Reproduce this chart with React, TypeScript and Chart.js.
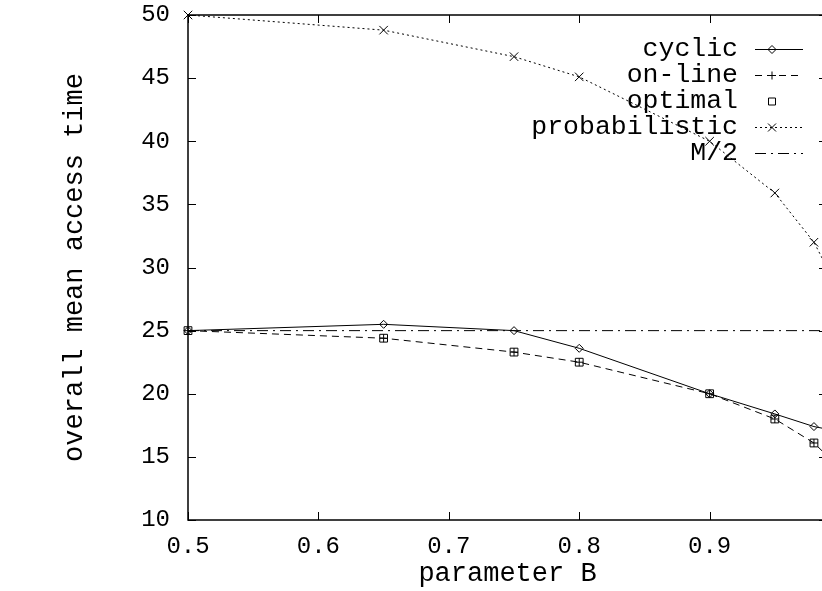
import React, { useEffect, useRef } from "react";
import { Chart, registerables } from "chart.js";

Chart.register(...registerables);

const xValues = [0.5, 0.65, 0.75, 0.8, 0.9, 0.95, 0.98, 0.99];
const cyclicValues = [25, 25.5, 25, 23.6, 20, 18.4, 17.4, 17.2];
const onlineValues = [25, 24.4, 23.3, 22.5, 20, 18, 16.1, 15.1];
const optimalValues = [25, 24.4, 23.3, 22.5, 20, 18, 16.1, 15.1];
const probabilisticValues = [50, 48.8, 46.7, 45.1, 40, 35.9, 32, 30];
const halfXValues = [0.5, 0.99];
const halfValues = [25, 25];
const xTickValues = [0.5, 0.6, 0.7, 0.8, 0.9];
const yTickValues = [10, 15, 20, 25, 30, 35, 40, 45, 50];

const FONT = "'Liberation Mono', 'DejaVu Sans Mono', monospace";

function pts(xs: number[], ys: number[]) {
  return xs.map((x, i) => ({ x, y: ys[i] }));
}

function drawMarker(ctx: CanvasRenderingContext2D, style: string, x: number, y: number) {
  ctx.beginPath();
  if (style === "rectRot") {
    ctx.moveTo(x - 4, y);
    ctx.lineTo(x, y - 4);
    ctx.lineTo(x + 4, y);
    ctx.lineTo(x, y + 4);
    ctx.closePath();
  } else if (style === "cross") {
    ctx.moveTo(x - 4, y);
    ctx.lineTo(x + 4, y);
    ctx.moveTo(x, y - 4);
    ctx.lineTo(x, y + 4);
  } else if (style === "rect") {
    ctx.rect(x - 3.5, y - 3.5, 7, 7);
  } else if (style === "crossRot") {
    ctx.moveTo(x - 4, y - 4);
    ctx.lineTo(x + 4, y + 4);
    ctx.moveTo(x + 4, y - 4);
    ctx.lineTo(x - 4, y + 4);
  }
  ctx.stroke();
}

const framePlugin = {
  id: "gnuplotFrame",
  afterDraw(chart: any) {
    const ctx: CanvasRenderingContext2D = chart.ctx;
    const { left, right, top, bottom } = chart.chartArea;
    const xs = chart.scales.x;
    const ys = chart.scales.y;
    ctx.save();
    ctx.strokeStyle = "#000";
    ctx.lineWidth = 1.5;
    ctx.setLineDash([]);
    ctx.strokeRect(left, top, right - left, bottom - top);
    ctx.lineWidth = 1;
    const tl = 8;
    ctx.beginPath();
    xTickValues.forEach((v) => {
      const px = Math.round(xs.getPixelForValue(v)) + 0.5;
      ctx.moveTo(px, bottom);
      ctx.lineTo(px, bottom - tl);
      ctx.moveTo(px, top);
      ctx.lineTo(px, top + tl);
    });
    yTickValues.forEach((v) => {
      const py = Math.round(ys.getPixelForValue(v)) + 0.5;
      ctx.moveTo(left, py);
      ctx.lineTo(left + tl, py);
      ctx.moveTo(right, py);
      ctx.lineTo(right - tl, py);
    });
    ctx.stroke();

    // legend
    ctx.font = "26.5px " + FONT;
    ctx.fillStyle = "#000";
    ctx.textAlign = "right";
    ctx.textBaseline = "middle";
    const textRight = 738;
    const sx0 = 755;
    const sx1 = 803;
    const mx = 772;
    chart.data.datasets.forEach((ds: any, i: number) => {
      const y = 49 + i * 26;
      ctx.fillText(ds.label, textRight, y);
      ctx.strokeStyle = "#000";
      ctx.lineWidth = 1;
      if (ds.showLine !== false) {
        ctx.setLineDash(ds.borderDash || []);
        ctx.beginPath();
        ctx.moveTo(sx0, y + 0.5);
        ctx.lineTo(sx1, y + 0.5);
        ctx.stroke();
      }
      ctx.setLineDash([]);
      if (ds.pointRadius > 0) drawMarker(ctx, ds.pointStyle, mx, y + 0.5);
    });
    ctx.restore();
  },
};

export default function App() {
  const ref = useRef<HTMLCanvasElement | null>(null);
  useEffect(() => {
    if (!ref.current) return;
    const chart = new Chart(ref.current, {
      type: "line",
      data: {
        datasets: [
          {
            label: "cyclic",
            data: pts(xValues, cyclicValues),
            borderColor: "#000",
            borderWidth: 1,
            borderDash: [],
            pointStyle: "rectRot",
            pointRadius: 4,
            pointBorderWidth: 1,
            pointBorderColor: "#000",
            pointBackgroundColor: "rgba(0,0,0,0)",
            clip: false,
          },
          {
            label: "on-line",
            data: pts(xValues, onlineValues),
            borderColor: "#000",
            borderWidth: 1,
            borderDash: [7, 5],
            pointStyle: "cross",
            pointRadius: 4,
            pointBorderWidth: 1,
            pointBorderColor: "#000",
            clip: false,
          },
          {
            label: "optimal",
            data: pts(xValues, optimalValues),
            showLine: false,
            borderColor: "#000",
            borderWidth: 1,
            pointStyle: "rect",
            pointRadius: 5.5,
            pointBorderWidth: 1,
            pointBorderColor: "#000",
            pointBackgroundColor: "rgba(0,0,0,0)",
            clip: false,
          },
          {
            label: "probabilistic",
            data: pts(xValues, probabilisticValues),
            borderColor: "#000",
            borderWidth: 1,
            borderDash: [2, 3],
            pointStyle: "crossRot",
            pointRadius: 6,
            pointBorderWidth: 1,
            pointBorderColor: "#000",
            clip: false,
          },
          {
            label: "M/2",
            data: pts(halfXValues, halfValues),
            borderColor: "#000",
            borderWidth: 1,
            borderDash: [11, 5, 2, 5],
            pointRadius: 0,
          },
        ],
      },
      options: {
        animation: false,
        responsive: false,
        events: [],
        layout: { padding: { left: 0, top: 15, right: 13, bottom: 0 } },
        plugins: { legend: { display: false }, tooltip: { enabled: false } },
        elements: { line: { tension: 0 } },
        scales: {
          x: {
            type: "linear",
            min: 0.5,
            max: 0.99,
            grid: { display: false, drawTicks: false },
            border: { display: false },
            afterBuildTicks: (s: any) => {
              s.ticks = xTickValues.map((v) => ({ value: v }));
            },
            afterFit: (s: any) => {
              s.height = 71;
              s.paddingLeft = 0;
              s.paddingRight = 0;
            },
            ticks: {
              color: "#000",
              padding: 12,
              autoSkip: false,
              maxRotation: 0,
              font: { family: FONT, size: 24 },
              callback: (v: any) => Number(v).toFixed(1),
            },
            title: {
              display: true,
              text: "parameter B",
              color: "#000",
              font: { family: FONT, size: 27 },
              padding: { top: 0, bottom: 1 },
            },
          },
          y: {
            type: "linear",
            min: 10,
            max: 50,
            grid: { display: false, drawTicks: false },
            border: { display: false },
            afterBuildTicks: (s: any) => {
              s.ticks = yTickValues.map((v) => ({ value: v }));
            },
            afterFit: (s: any) => {
              s.width = 188;
              s.paddingTop = 0;
              s.paddingBottom = 0;
            },
            ticks: {
              color: "#000",
              padding: 18,
              autoSkip: false,
              font: { family: FONT, size: 24 },
            },
            title: {
              display: true,
              text: "overall mean access time",
              color: "#000",
              font: { family: FONT, size: 27 },
              padding: { top: 59, bottom: 0 },
            },
          },
        },
      },
      plugins: [framePlugin],
    });
    return () => chart.destroy();
  }, []);
  return (
    <div
      style={{
        position: "absolute",
        left: 0,
        top: 0,
        width: 822,
        height: 591,
        overflow: "hidden",
        background: "#fff",
      }}
    >
      <canvas ref={ref} width={840} height={591} style={{ width: 840, height: 591, display: "block" }} />
    </div>
  );
}
